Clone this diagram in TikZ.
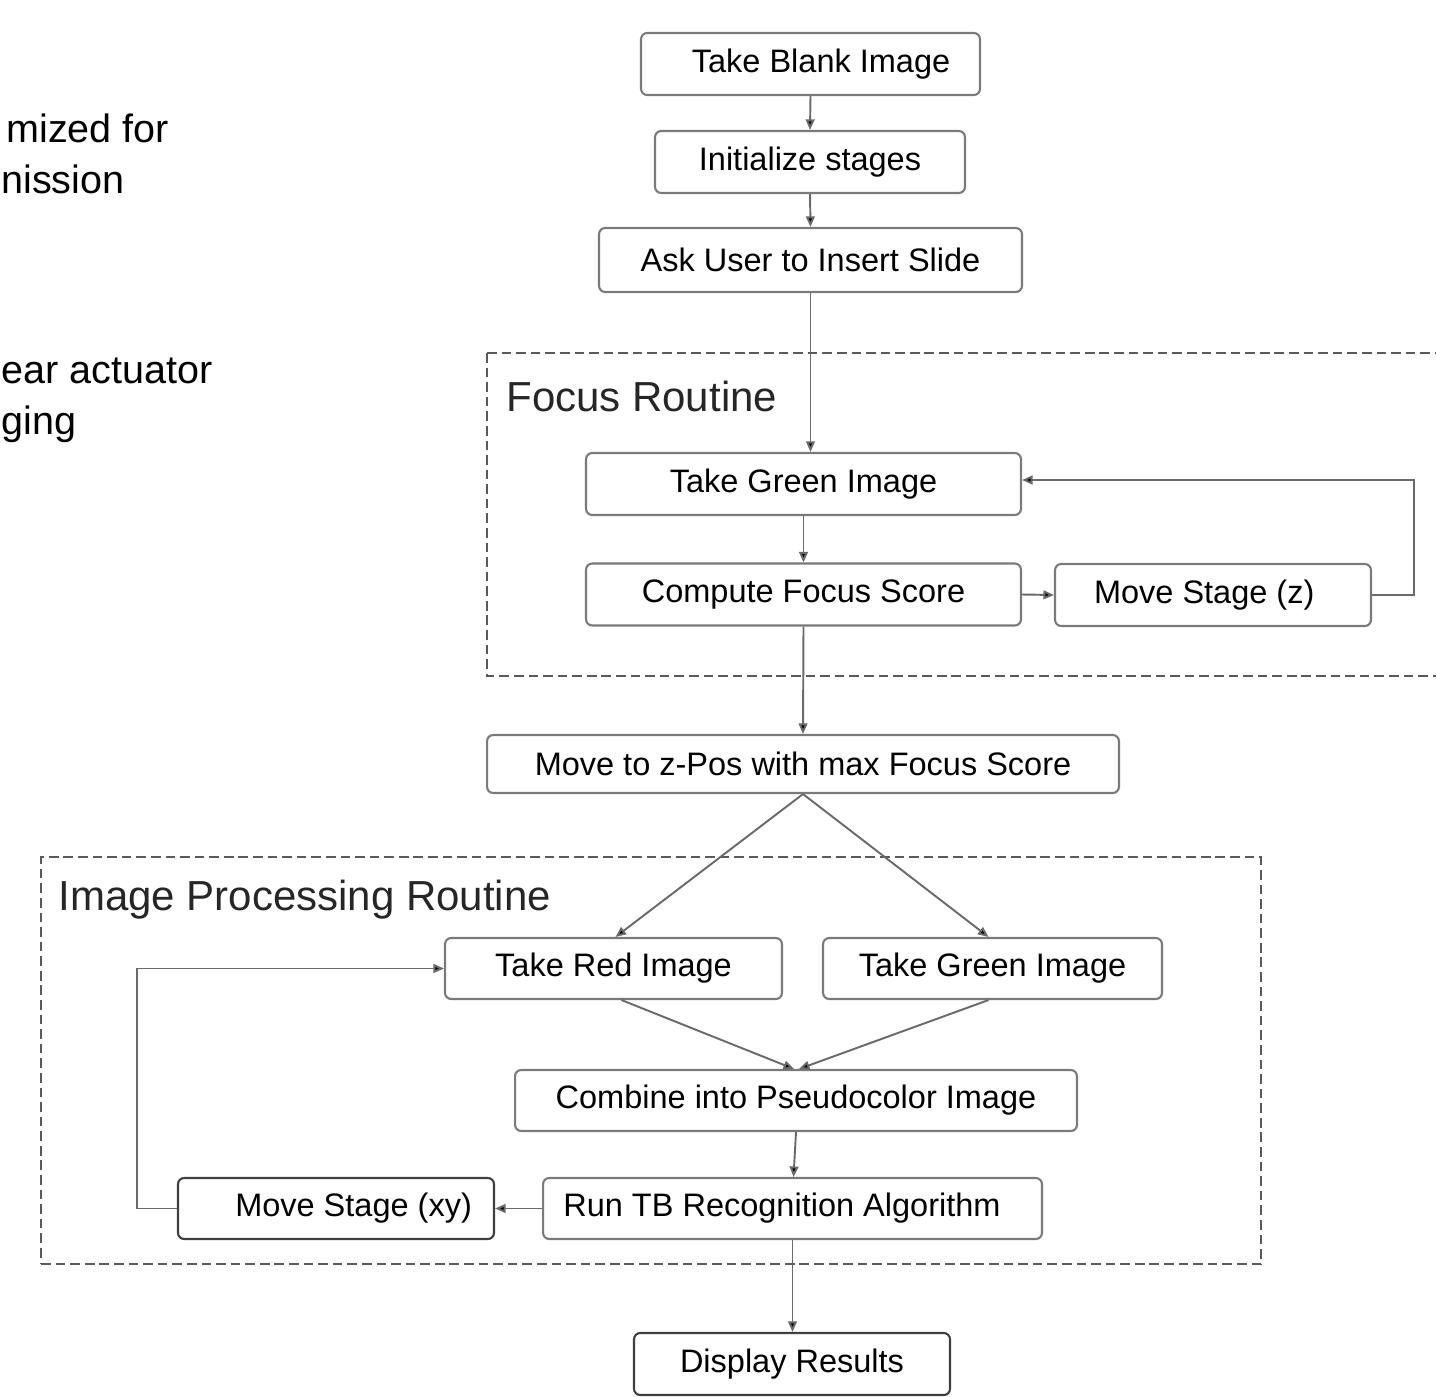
\documentclass[tikz,border=0pt]{standalone}
\usepackage{fontspec}
\setmainfont{Liberation Sans}
\usetikzlibrary{arrows.meta,positioning,calc}

\definecolor{edge}{HTML}{7A7A7A}
\definecolor{wire}{HTML}{6A6A6A}
\definecolor{frame}{HTML}{5A5A5A}

\tikzset{
  stepbox/.style={draw=edge, line width=1.2pt, rounded corners=3.5pt,
    fill=white, minimum height=1.24cm, inner sep=0pt,
    font=\fontsize{18.5}{22}\selectfont},
  darkbox/.style={stepbox, draw=black!75},
  flow/.style={draw=wire, line width=1.1pt,
    -{Triangle[length=6pt,width=5pt,fill=black]}},
  region/.style={draw=frame, line width=1.1pt, dash pattern=on 5.5pt off 2.8pt,
    inner sep=0pt},
  regiontitle/.style={anchor=west, inner sep=0pt,
    font=\fontsize{23.9}{28}\selectfont, text=black!85},
  sidetext/.style={anchor=base west, inner sep=0pt,
    font=\fontsize{22.5}{27}\selectfont}
}

\begin{document}
\begin{tikzpicture}[x=0.02cm, y=-0.02cm]
\useasboundingbox (0,0) rectangle (1436,1396);

% side notes along the left margin
\node[sidetext] (n1) at (6,142) {mized for};
\node[sidetext] (n2) at (1,193) {nission};
\node[sidetext] (n3) at (1,383) {ear actuator};
\node[sidetext] (n4) at (1,434) {ging};

% dashed routine frames
\draw[region] (487,353) -- (1460,353);
\draw[region] (487,353) -- (487,676) -- (1460,676);
\node[regiontitle] (focustitle) at (506,396) {Focus Routine};

\node[region, minimum width=24.4cm, minimum height=8.14cm] (ipr) at (651,1060.5) {};
\node[regiontitle] (iprtitle) at (58,900) {Image Processing Routine};

% process steps
\node[stepbox, minimum width=6.78cm] (blank) at (810.5,64) {\hspace{12pt}Take Blank Image};
\node[stepbox, minimum width=6.2cm] (init) at (810,162) {Initialize stages};
\node[stepbox, minimum width=8.46cm, minimum height=1.28cm] (ask) at (810.5,260) {Ask User to Insert Slide};

\node[stepbox, minimum width=8.7cm] (green) at (803.5,484) {Take Green Image};
\node[stepbox, minimum width=8.7cm] (score) at (803.5,594.5) {Compute Focus Score};
\node[stepbox, minimum width=6.32cm] (movez) at (1213,595) {\hspace{-10pt}Move Stage (z)};

\node[stepbox, minimum width=12.64cm, minimum height=1.16cm] (zpos) at (803,764) {Move to z-Pos with max Focus Score};

\node[stepbox, minimum width=6.74cm, minimum height=1.22cm] (red) at (613.5,968.5) {Take Red Image};
\node[stepbox, minimum width=6.78cm, minimum height=1.22cm] (green2) at (992.5,968.5) {Take Green Image};
\node[stepbox, minimum width=11.24cm, minimum height=1.22cm] (combine) at (796,1100.5) {Combine into Pseudocolor Image};
\node[stepbox, minimum width=9.98cm, minimum height=1.22cm] (runtb) at (792.5,1208.5) {\hspace{-12pt}Run TB Recognition Algorithm};
\node[darkbox, minimum width=6.32cm, minimum height=1.22cm] (movexy) at (336,1208.5) {\hspace{20pt}Move Stage (xy)};
\node[darkbox, minimum width=6.32cm] (display) at (792,1364) {Display Results};

% connectors
\draw[flow] (blank.south) -- (init.north);
\draw[flow] (init.south) -- (ask.north);
\draw[flow] (ask.south) -- (ask.south |- green.north);
\draw[flow] (green.south) -- (score.north);
\draw[flow] (score.east) -- (movez.west);
\draw[flow] (movez.east) -- ++(42,0) |- ($(green.east)+(0,-4)$);
\draw[flow] (score.south) -- (zpos.north);
\draw[flow] (zpos.south) -- ($(red.north)+(2,0)$);
\draw[flow] (zpos.south) -- ($(green2.north)+(-4,0)$);
\draw[flow] ($(red.south)+(8,0)$) -- ($(combine.north)+(-2,0)$);
\draw[flow] ($(green2.south)+(-4,0)$) -- ($(combine.north)+(3,0)$);
\draw[flow] (combine.south) -- ($(runtb.north)+(1,0)$);
\draw[flow] (runtb.west) -- (movexy.east);
\draw[flow] (movexy.west) -- ++(-40,0) |- (red.west);
\draw[flow] (runtb.south) -- (runtb.south |- display.north);
\end{tikzpicture}
\end{document}
